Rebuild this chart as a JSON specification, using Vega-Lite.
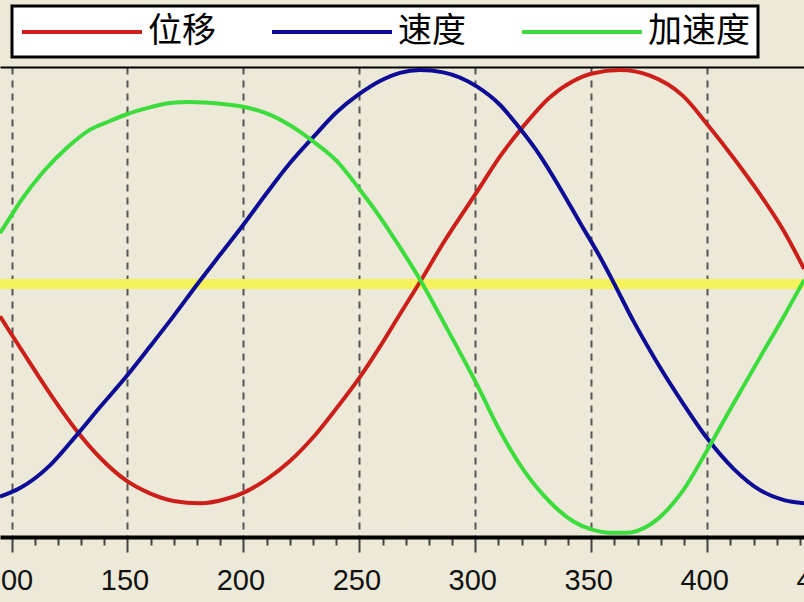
{
  "$schema": "https://vega.github.io/schema/vega-lite/v6.json",
  "width": 828,
  "height": 470,
  "autosize": {"type": "none"},
  "padding": {"left": 0, "right": 0, "top": 67, "bottom": 65},
  "background": "#ECE9D8",
  "data": {
    "values": [
      {"s": "位移", "x": 95.04, "y": -0.15},
      {"s": "位移", "x": 100.1, "y": -0.235},
      {"s": "位移", "x": 109.4, "y": -0.39},
      {"s": "位移", "x": 118.0, "y": -0.53},
      {"s": "位移", "x": 128.1, "y": -0.68},
      {"s": "位移", "x": 138.2, "y": -0.805},
      {"s": "位移", "x": 149.4, "y": -0.91},
      {"s": "位移", "x": 159.7, "y": -0.97},
      {"s": "位移", "x": 169.8, "y": -1.005},
      {"s": "位移", "x": 181.3, "y": -1.016},
      {"s": "位移", "x": 192.8, "y": -0.995},
      {"s": "位移", "x": 200.4, "y": -0.965},
      {"s": "位移", "x": 210.0, "y": -0.905},
      {"s": "位移", "x": 220.1, "y": -0.82},
      {"s": "位移", "x": 230.1, "y": -0.71},
      {"s": "位移", "x": 240.2, "y": -0.575},
      {"s": "位移", "x": 250.0, "y": -0.435},
      {"s": "位移", "x": 258.9, "y": -0.29},
      {"s": "位移", "x": 267.5, "y": -0.14},
      {"s": "位移", "x": 276.2, "y": 0.01},
      {"s": "位移", "x": 286.2, "y": 0.19},
      {"s": "位移", "x": 300.9, "y": 0.43},
      {"s": "位移", "x": 310.6, "y": 0.59},
      {"s": "位移", "x": 320.7, "y": 0.73},
      {"s": "位移", "x": 332.2, "y": 0.865},
      {"s": "位移", "x": 342.3, "y": 0.94},
      {"s": "位移", "x": 350.4, "y": 0.975},
      {"s": "位移", "x": 362.4, "y": 0.991},
      {"s": "位移", "x": 375.3, "y": 0.965},
      {"s": "位移", "x": 389.7, "y": 0.87},
      {"s": "位移", "x": 400.0, "y": 0.74},
      {"s": "位移", "x": 411.3, "y": 0.585},
      {"s": "位移", "x": 422.8, "y": 0.415},
      {"s": "位移", "x": 432.8, "y": 0.25},
      {"s": "位移", "x": 441.8, "y": 0.07},
      {"s": "速度", "x": 95.04, "y": -0.985},
      {"s": "速度", "x": 103.7, "y": -0.945},
      {"s": "速度", "x": 116.6, "y": -0.84},
      {"s": "速度", "x": 128.1, "y": -0.7},
      {"s": "速度", "x": 138.2, "y": -0.57},
      {"s": "速度", "x": 149.4, "y": -0.43},
      {"s": "速度", "x": 159.7, "y": -0.29},
      {"s": "速度", "x": 169.8, "y": -0.15},
      {"s": "速度", "x": 180.2, "y": 0.0},
      {"s": "速度", "x": 189.9, "y": 0.135},
      {"s": "速度", "x": 200.4, "y": 0.28},
      {"s": "速度", "x": 210.0, "y": 0.42},
      {"s": "速度", "x": 220.1, "y": 0.56},
      {"s": "速度", "x": 230.1, "y": 0.68},
      {"s": "速度", "x": 240.2, "y": 0.795},
      {"s": "速度", "x": 250.0, "y": 0.88},
      {"s": "速度", "x": 258.9, "y": 0.94},
      {"s": "速度", "x": 267.5, "y": 0.978},
      {"s": "速度", "x": 276.2, "y": 0.991},
      {"s": "速度", "x": 286.2, "y": 0.98},
      {"s": "速度", "x": 300.6, "y": 0.915},
      {"s": "速度", "x": 310.6, "y": 0.83},
      {"s": "速度", "x": 317.8, "y": 0.74},
      {"s": "速度", "x": 327.9, "y": 0.595},
      {"s": "速度", "x": 336.5, "y": 0.445},
      {"s": "速度", "x": 345.1, "y": 0.285},
      {"s": "速度", "x": 353.8, "y": 0.125},
      {"s": "速度", "x": 359.5, "y": 0.01},
      {"s": "速度", "x": 368.1, "y": -0.17},
      {"s": "速度", "x": 378.2, "y": -0.36},
      {"s": "速度", "x": 389.7, "y": -0.555},
      {"s": "速度", "x": 400.0, "y": -0.715},
      {"s": "速度", "x": 411.3, "y": -0.855},
      {"s": "速度", "x": 422.8, "y": -0.955},
      {"s": "速度", "x": 432.8, "y": -1.0},
      {"s": "速度", "x": 441.8, "y": -1.016},
      {"s": "加速度", "x": 95.04, "y": 0.235},
      {"s": "加速度", "x": 100.1, "y": 0.32},
      {"s": "加速度", "x": 103.7, "y": 0.38},
      {"s": "加速度", "x": 113.7, "y": 0.52},
      {"s": "加速度", "x": 123.8, "y": 0.63},
      {"s": "加速度", "x": 133.9, "y": 0.715},
      {"s": "加速度", "x": 142.5, "y": 0.755},
      {"s": "加速度", "x": 149.4, "y": 0.785},
      {"s": "加速度", "x": 159.7, "y": 0.818},
      {"s": "加速度", "x": 168.3, "y": 0.838},
      {"s": "加速度", "x": 177.0, "y": 0.843},
      {"s": "加速度", "x": 190.0, "y": 0.835},
      {"s": "加速度", "x": 200.4, "y": 0.82},
      {"s": "加速度", "x": 210.0, "y": 0.79},
      {"s": "加速度", "x": 220.1, "y": 0.735},
      {"s": "加速度", "x": 230.1, "y": 0.66},
      {"s": "加速度", "x": 240.2, "y": 0.57},
      {"s": "加速度", "x": 250.0, "y": 0.44},
      {"s": "加速度", "x": 258.9, "y": 0.31},
      {"s": "加速度", "x": 267.5, "y": 0.17},
      {"s": "加速度", "x": 276.2, "y": 0.02},
      {"s": "加速度", "x": 286.2, "y": -0.175},
      {"s": "加速度", "x": 300.9, "y": -0.47},
      {"s": "加速度", "x": 310.6, "y": -0.68},
      {"s": "加速度", "x": 320.7, "y": -0.86},
      {"s": "加速度", "x": 332.2, "y": -1.01},
      {"s": "加速度", "x": 342.3, "y": -1.1},
      {"s": "加速度", "x": 350.4, "y": -1.138},
      {"s": "加速度", "x": 358.0, "y": -1.152},
      {"s": "加速度", "x": 365.3, "y": -1.152},
      {"s": "加速度", "x": 375.3, "y": -1.115},
      {"s": "加速度", "x": 389.7, "y": -0.955},
      {"s": "加速度", "x": 400.0, "y": -0.77},
      {"s": "加速度", "x": 411.3, "y": -0.555},
      {"s": "加速度", "x": 422.8, "y": -0.34},
      {"s": "加速度", "x": 432.8, "y": -0.155},
      {"s": "加速度", "x": 441.8, "y": 0.019}
    ]
  },
  "layer": [
    {
      "mark": {"type": "rule", "color": "#F6F25E", "strokeWidth": 9},
      "encoding": {
        "x": {
          "datum": 95.04,
          "type": "quantitative",
          "scale": {"domain": [95.04, 452.1], "nice": false, "zero": false},
          "axis": {
            "orient": "top",
            "title": null,
            "labels": false,
            "ticks": false,
            "grid": false,
            "domainColor": "#000000",
            "domainWidth": 2
          }
        },
        "x2": {"datum": 452.1},
        "y": {
          "datum": 0,
          "type": "quantitative",
          "scale": {"domain": [-1.172, 1.005], "nice": false, "zero": false},
          "axis": null
        }
      }
    },
    {
      "mark": {"type": "line", "strokeWidth": 4, "interpolate": "monotone", "clip": true},
      "encoding": {
        "x": {
          "field": "x",
          "type": "quantitative",
          "scale": {"domain": [95.04, 452.1], "nice": false, "zero": false},
          "axis": {
            "orient": "bottom",
            "title": null,
            "values": [100, 110, 120, 130, 140, 150, 160, 170, 180, 190, 200, 210, 220, 230, 240, 250, 260, 270, 280, 290, 300, 310, 320, 330, 340, 350, 360, 370, 380, 390, 400, 410, 420, 430, 440, 450],
            "labelExpr": "datum.value % 50 === 0 ? datum.label : ''",
            "labelOverlap": false,
            "labelFlush": false,
            "labelFont": "Liberation Sans",
            "labelFontSize": 29,
            "labelColor": "#111111",
            "labelPadding": 14,
            "labelOffset": -3,
            "grid": true,
            "gridColor": "#555555",
            "gridWidth": 2,
            "gridDash": [7, 6],
            "gridOpacity": {"condition": {"test": "datum.value % 50 === 0", "value": 1}, "value": 0},
            "tickSize": {"condition": {"test": "datum.value % 50 === 0", "value": 15}, "value": 8},
            "tickColor": "#444444",
            "tickWidth": 2,
            "domainColor": "#000000",
            "domainWidth": 4
          }
        },
        "y": {
          "field": "y",
          "type": "quantitative",
          "scale": {"domain": [-1.172, 1.005], "nice": false, "zero": false},
          "axis": null
        },
        "color": {
          "field": "s",
          "type": "nominal",
          "scale": {
            "domain": ["位移", "速度", "加速度"],
            "range": ["#CC1F1A", "#0C0C96", "#3CDC3C"]
          },
          "legend": {
            "title": null,
            "orient": "none",
            "legendX": 12,
            "legendY": -61,
            "direction": "horizontal",
            "symbolType": "M-1,0L6.5,0",
            "symbolSize": 1024,
            "symbolStrokeWidth": 4,
            "labelFont": "Noto Sans CJK SC",
            "labelFontSize": 34,
            "labelColor": "#000000",
            "labelOffset": 92,
            "columnPadding": 48,
            "padding": 8,
            "fillColor": "#FFFFFF",
            "strokeColor": "#000000"
          }
        }
      }
    }
  ],
  "resolve": {"axis": {"x": "independent"}},
  "config": {
    "view": {"stroke": null},
    "legend": {"strokeWidth": 3}
  }
}
